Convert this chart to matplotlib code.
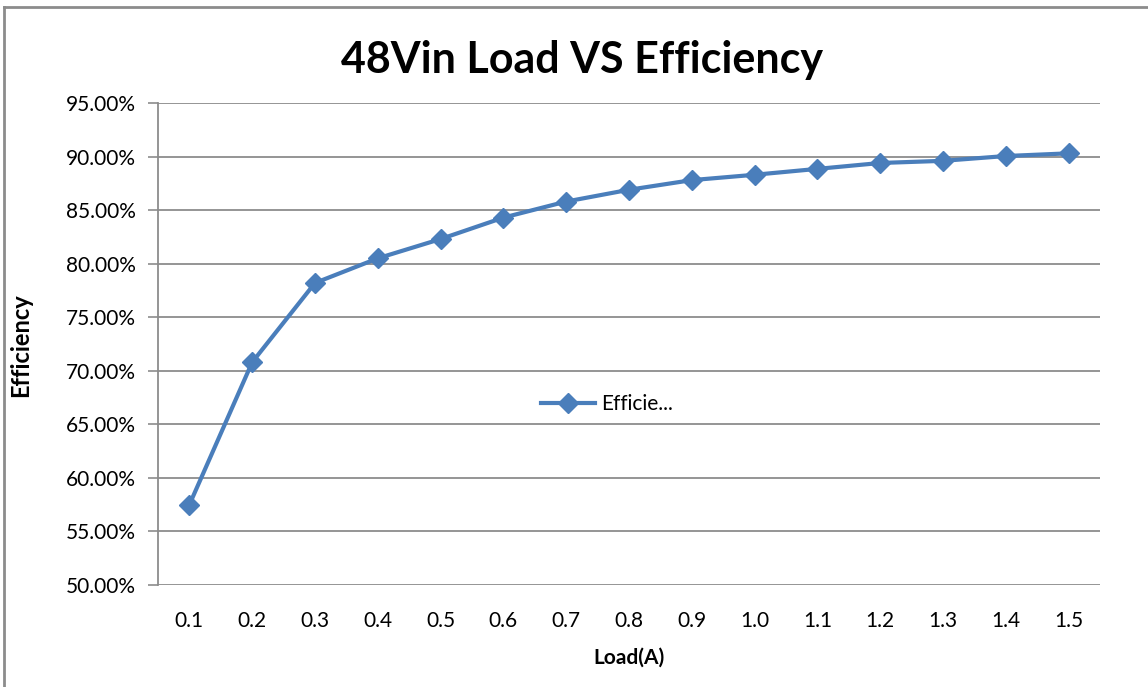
import matplotlib
matplotlib.use("Agg")
import matplotlib.pyplot as plt
from matplotlib.lines import Line2D
from matplotlib.ticker import FuncFormatter

# data
loads = ["0.1", "0.2", "0.3", "0.4", "0.5", "0.6", "0.7", "0.8",
         "0.9", "1.0", "1.1", "1.2", "1.3", "1.4", "1.5"]
efficiency = [57.5, 70.8, 78.2, 80.5, 82.3, 84.3, 85.8, 86.9,
              87.8, 88.3, 88.85, 89.4, 89.6, 90.05, 90.3]
y_ticks = [50, 55, 60, 65, 70, 75, 80, 85, 90, 95]

line_color = "#4A7EBB"
grid_color = "#8C8C8C"
font = ["Lato", "DejaVu Sans"]
plt.rcParams['font.family'] = font

W, H = 1148, 687
fig = plt.figure(figsize=(W / 100, H / 100), dpi=100)
fig.patch.set_facecolor("white")

ax = fig.add_axes([158 / W, 1 - 585 / H, (1100 - 158) / W, (585 - 103) / H])

x = list(range(len(loads)))
ax.plot(x, efficiency, color=line_color, linewidth=3, marker="D",
        markersize=10, markerfacecolor=line_color, markeredgecolor=line_color,
        label="Efficie...", zorder=3)

ax.set_xlim(-0.5, len(loads) - 0.5)
ax.set_ylim(50, 95)
ax.set_xticks(x)
ax.set_xticklabels(loads, fontsize=15)
ax.set_yticks(y_ticks)
ax.yaxis.set_major_formatter(FuncFormatter(lambda v, p: f"{v:.2f}%"))
ax.tick_params(axis="y", labelsize=15, length=7, color=grid_color, width=1.2, pad=9)
ax.tick_params(axis="x", length=0, pad=19)

ax.grid(axis="y", color=grid_color, linewidth=1.3)
ax.set_axisbelow(True)
for side in ["top", "right", "bottom"]:
    ax.spines[side].set_visible(False)
ax.spines["left"].set_color(grid_color)
ax.spines["left"].set_linewidth(1.3)

ax.set_xlabel("Load(A)", fontsize=15, fontweight="bold", labelpad=12)
ax.set_ylabel("Efficiency", fontsize=17, fontweight="bold")
ax.yaxis.set_label_coords((32 - 158) / (1100 - 158), (585 - 345) / (585 - 103))

fig.text(582 / W, 1 - 60 / H, "48Vin Load VS Efficiency", fontsize=31,
         fontweight="bold", ha="center", va="center")

ax.legend(loc="center", bbox_to_anchor=((607 - 158) / (1100 - 158), (585 - 404) / (585 - 103)),
          frameon=False, fontsize=15, handlelength=2.6, handletextpad=0.3)

# outer chart border (top and left edges visible)
fig.add_artist(Line2D([4 / W, 1], [1 - 7 / H, 1 - 7 / H], color=grid_color, linewidth=2))
fig.add_artist(Line2D([4 / W, 4 / W], [0, 1 - 7 / H], color=grid_color, linewidth=2))

fig.savefig("out.png", dpi=100)
